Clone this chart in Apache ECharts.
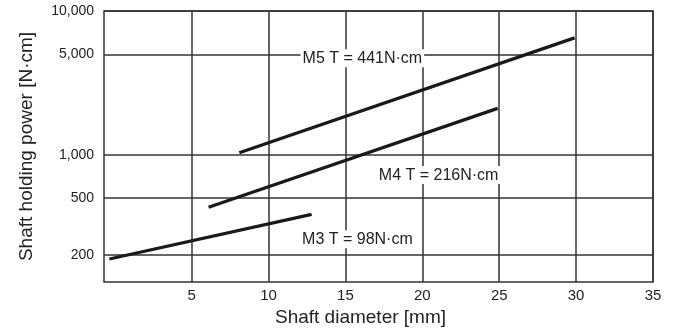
<!DOCTYPE html>
<html>
<head>
<meta charset="utf-8">
<script src="https://cdn.jsdelivr.net/npm/echarts@6/dist/echarts.min.js"></script>
<style>
  html, body { margin: 0; padding: 0; background: #fff; }
  #chart { width: 675px; height: 329px; }
</style>
</head>
<body>
<div id="chart"></div>
<script>
// Tick values for both axes
const xTicks = [5, 10, 15, 20, 25, 30, 35];
const yTicks = [200, 500, 1000, 5000, 10000];

// Shaft holding power [N·cm] vs shaft diameter [mm], one line per screw size
const lineNames = ['M5 T = 441N·cm', 'M4 T = 216N·cm', 'M3 T = 98N·cm'];
const m5Diameter = [8.1, 29.9];
const m5Power = [1030, 6500];
const m4Diameter = [6.1, 24.9];
const m4Power = [430, 2100];
const m3Diameter = [-0.35, 12.8];
const m3Power = [188, 384];

const FONT = '"Liberation Sans", Arial, Helvetica, sans-serif';
const INK = '#1a1a1a';
const GRID = '#333333';

const lines = [
  [m5Diameter, m5Power],
  [m4Diameter, m4Power],
  [m3Diameter, m3Power]
];
// where each line's caption sits, in axis units
const captionAt = [[16.1, 4690], [21.06, 721], [15.78, 258]];

const chart = echarts.init(document.getElementById('chart'));

const series = lines.map(([xs, ys], i) => ({
  name: lineNames[i],
  type: 'line',
  data: xs.map((x, k) => [x, ys[k]]),
  symbol: 'none',
  silent: true,
  lineStyle: { color: INK, width: 3.2, cap: 'butt' },
  z: 5,
  markPoint: {
    symbol: 'rect',
    symbolSize: 0,
    silent: true,
    data: [{ coord: captionAt[i], value: lineNames[i] }],
    label: {
      show: true,
      position: 'inside',
      formatter: lineNames[i],
      fontFamily: FONT,
      fontSize: 16,
      color: '#222',
      backgroundColor: '#fff',
      padding: [1, 2, 1, 2]
    }
  }
}));

chart.setOption({
  animation: false,
  backgroundColor: '#fff',
  textStyle: { fontFamily: FONT },
  grid: {
    show: true,
    left: 104, right: 22, top: 11, bottom: 47,
    borderColor: GRID, borderWidth: 1.5,
    containLabel: false,
    outerBoundsMode: 'none'
  },
  xAxis: {
    type: 'value',
    min: -0.7,
    max: 35,
    axisLine: { show: false },
    axisTick: { show: false, customValues: xTicks },
    axisLabel: {
      customValues: xTicks,
      fontFamily: FONT, fontSize: 15, color: '#222', margin: 6
    },
    splitLine: { show: true, lineStyle: { color: GRID, width: 1.5 } },
    name: 'Shaft diameter [mm]',
    nameLocation: 'middle',
    nameGap: 25,
    nameTextStyle: { fontFamily: FONT, fontSize: 19, color: '#222', padding: [0, 36, 0, 0] }
  },
  yAxis: {
    type: 'log',
    logBase: 10,
    min: 130,
    max: 10000,
    axisLine: { show: false },
    axisTick: { show: false, customValues: yTicks },
    axisLabel: {
      customValues: yTicks,
      fontFamily: FONT, fontSize: 14, color: '#222', margin: 10,
      formatter: v => Math.round(v).toLocaleString('en-US')
    },
    splitLine: { show: true, lineStyle: { color: GRID, width: 1.5 } },
    name: 'Shaft holding power [N·cm]',
    nameLocation: 'middle',
    nameGap: 68,
    nameRotate: 90,
    nameTextStyle: { fontFamily: FONT, fontSize: 19, color: '#222' }
  },
  series: series
});
</script>
</body>
</html>
